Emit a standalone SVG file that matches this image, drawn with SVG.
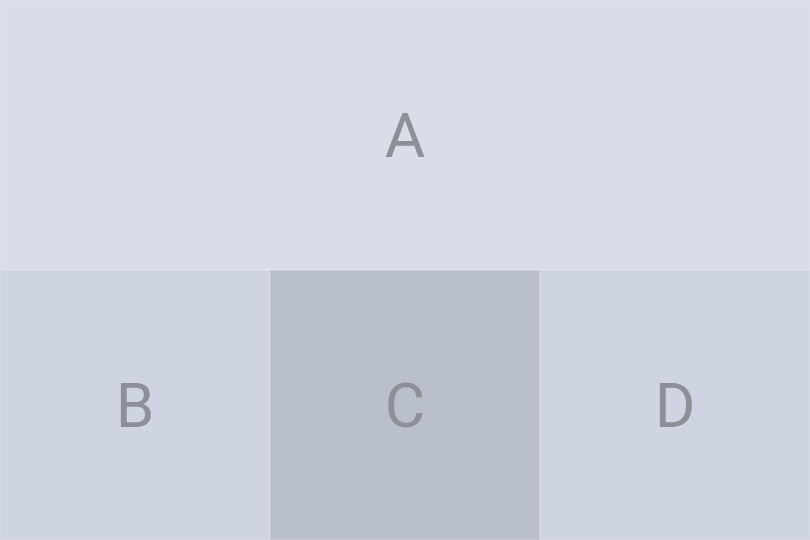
<svg xmlns="http://www.w3.org/2000/svg" width="810" height="540" viewBox="0 0 810 540">
<style>
.cell{stroke:#ffffff;stroke-opacity:0.25;stroke-width:1}
.lbl{font-family:Roboto,"Liberation Sans",sans-serif;font-size:62px;fill:#8b9099;text-anchor:middle}
</style>
<g id="A"><rect class="cell" x="0" y="0" width="810" height="270" fill="#d9dde8"/><text class="lbl" x="405" y="157">A</text></g>
<g id="B"><rect class="cell" x="0" y="270" width="270" height="270" fill="#ced4e1"/><text class="lbl" x="135" y="427">B</text></g>
<g id="C"><rect class="cell" x="270" y="270" width="270" height="270" fill="#babfcc"/><text class="lbl" x="405" y="427">C</text></g>
<g id="D"><rect class="cell" x="540" y="270" width="270" height="270" fill="#ced4e1"/><text class="lbl" x="675" y="427">D</text></g>
<g id="connectors"></g>
</svg>
